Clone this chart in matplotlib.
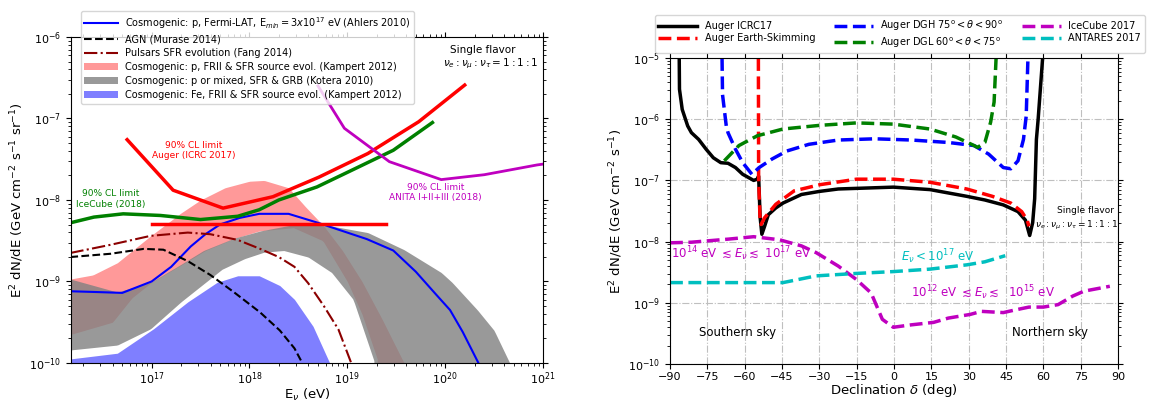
import numpy as np
import matplotlib
matplotlib.use('Agg')
from matplotlib import pyplot as plt
from matplotlib.lines import Line2D
from matplotlib.patches import Patch
from matplotlib.ticker import NullFormatter

# * Left panel: values read as log10(E/eV), log10(E^2 dN/dE)
ahlers_logE = [16.17, 16.45, 16.70, 17.00, 17.20, 17.40, 17.55, 17.70, 17.90, 18.10,
               18.40, 18.70, 19.00, 19.20, 19.47, 19.70, 19.90, 20.05, 20.18, 20.34]
ahlers_logF = [-9.12, -9.13, -9.14, -9.00, -8.82, -8.57, -8.42, -8.30, -8.22, -8.17,
               -8.17, -8.28, -8.40, -8.48, -8.62, -8.88, -9.15, -9.35, -9.62, -10.0]

agn_logE = [16.17, 16.58, 16.92, 17.12, 17.37, 17.60, 17.84, 18.11, 18.31, 18.46, 18.54]
agn_logF = [-8.70, -8.66, -8.60, -8.61, -8.75, -8.92, -9.13, -9.38, -9.60, -9.82, -10.0]

pulsar_logE = [16.17, 16.58, 16.99, 17.37, 17.60, 17.88, 18.11, 18.30, 18.46, 18.60,
               18.76, 18.91, 19.04]
pulsar_logF = [-8.65, -8.55, -8.44, -8.40, -8.42, -8.49, -8.60, -8.70, -8.82, -9.02,
               -9.30, -9.59, -10.0]

auger_logE = [16.75, 17.22, 17.73, 18.24, 18.71, 19.21, 19.73, 20.20]
auger_logF = [-7.26, -7.88, -8.10, -7.96, -7.72, -7.43, -7.04, -6.59]

auger_int_logE = [17.0, 19.4]
auger_int_logF = [-8.30, -8.30]

icecube_logE = [16.17, 16.41, 16.71, 17.09, 17.50, 17.88, 18.10, 18.30, 18.69, 19.02,
                19.47, 19.87]
icecube_logF = [-8.28, -8.21, -8.17, -8.19, -8.24, -8.20, -8.12, -8.00, -7.84, -7.65,
                -7.39, -7.05]

anita_logE = [18.70, 18.97, 19.43, 19.96, 20.40, 20.94, 21.0]
anita_logF = [-6.60, -7.12, -7.53, -7.75, -7.69, -7.57, -7.56]

kampert_p_up_logE = [16.17, 16.40, 16.65, 16.99, 17.30, 17.50, 17.75, 18.00, 18.15, 18.40,
                     18.57, 18.76, 18.95, 19.15, 19.35, 19.58]
kampert_p_up_logF = [-8.97, -8.92, -8.77, -8.44, -8.16, -8.00, -7.85, -7.77, -7.76, -7.85,
                     -8.08, -8.32, -8.62, -9.00, -9.45, -10.0]
kampert_p_lo_logE = [16.17, 16.60, 16.80, 17.00, 17.30, 17.55, 17.85, 18.10, 18.45, 18.75,
                     19.00, 19.15, 19.32]
kampert_p_lo_logF = [-9.65, -9.50, -9.20, -9.01, -8.80, -8.62, -8.47, -8.38, -8.34, -8.50,
                     -9.00, -9.40, -10.0]

kotera_up_logE = [16.17, 16.65, 16.99, 17.30, 17.53, 17.84, 18.11, 18.46, 18.84, 19.21,
                  19.58, 19.96, 20.07, 20.33, 20.50, 20.66]
kotera_up_logF = [-8.97, -9.13, -9.01, -8.79, -8.62, -8.47, -8.38, -8.30, -8.32, -8.40,
                  -8.61, -8.89, -9.01, -9.35, -9.60, -10.0]
kotera_lo_logE = [16.17, 16.65, 16.99, 17.30, 17.72, 17.95, 18.15, 18.35, 18.60, 18.84,
                  19.06, 19.28]
kotera_lo_logF = [-9.84, -9.78, -9.58, -9.25, -8.85, -8.72, -8.64, -8.62, -8.70, -8.89,
                  -9.22, -10.0]

kampert_fe_logE = [16.17, 16.65, 17.02, 17.37, 17.67, 17.88, 18.10, 18.31, 18.46, 18.65, 18.82]
kampert_fe_logF = [-9.95, -9.88, -9.58, -9.25, -9.01, -8.93, -8.93, -9.05, -9.22, -9.55, -10.0]

e_ticks = [1e17, 1e18, 1e19, 1e20, 1e21]
flux_ticks_left = [1e-10, 1e-9, 1e-8, 1e-7, 1e-6]

# * Right panel: declination (deg), log10(E^2 dN/dE)
icrc17_dec = [-86.3, -86.2, -85.1, -82.9, -81.4, -78.5, -75.5, -72.6, -69.6, -66.7, -63.7,
              -60.8, -56.4, -55.0, -54.4, -53.8, -53.1, -52.0, -50.5, -47.5, -44.6, -37.2,
              -30.0, -22.4, -0.3, 14.4, 29.2, 36.5, 43.9, 49.8, 52.8, 54.5, 55.7, 56.5,
              57.2, 57.9, 59.7]
icrc17_logF = [-5.0, -5.51, -5.84, -6.11, -6.22, -6.33, -6.49, -6.63, -6.71, -6.72, -6.79,
               -6.90, -7.00, -6.98, -6.93, -7.60, -7.88, -7.75, -7.56, -7.45, -7.37, -7.23,
               -7.18, -7.14, -7.11, -7.15, -7.26, -7.32, -7.40, -7.51, -7.65, -7.90, -7.69,
               -7.30, -6.33, -6.00, -5.0]

es_dec = [-54.5, -54.4, -53.8, -53.4, -52.0, -47.5, -40.1, -29.8, -15.1, -0.3, 14.4,
          29.2, 39.5, 46.9, 51.3, 53.5, 54.2]
es_logF = [-5.0, -7.0, -7.65, -7.72, -7.61, -7.39, -7.17, -7.07, -6.98, -6.98, -7.03,
           -7.14, -7.26, -7.37, -7.51, -7.65, -7.75]

dgh_dec = [-69.1, -68.9, -67.4, -66.7, -63.7, -60.8, -57.1, -54.2, -49.0, -43.1, -34.2,
           -22.4, -7.7, 7.0, 21.8, 32.1, 38.0, 43.9, 46.9, 49.8, 52.0, 53.1, 53.8]
dgh_logF = [-5.0, -5.6, -6.11, -6.22, -6.49, -6.71, -6.90, -6.79, -6.65, -6.52, -6.41,
            -6.34, -6.32, -6.34, -6.38, -6.43, -6.57, -6.79, -6.81, -6.68, -6.33, -5.95, -5.0]

dgl_dec = [-68.2, -62.3, -54.9, -44.6, -29.8, -15.1, -0.3, 14.4, 24.8, 30.6, 33.6, 36.5,
           38.8, 40.2, 41.0]
dgl_logF = [-6.68, -6.43, -6.27, -6.16, -6.10, -6.06, -6.08, -6.16, -6.29, -6.40, -6.46,
            -6.38, -6.05, -5.72, -5.0]

ic17_dec = [-90, -81.4, -66.7, -56.4, -46.0, -37.2, -31.3, -22.4, -15.1, -9.2, -7.0, -4.7,
            -0.3, 7.0, 15.9, 21.8, 30.6, 35.1, 43.9, 48.3, 54.2, 60.0, 65.9, 71.8, 76.3, 86.7]
ic17_logF = [-8.02, -8.01, -7.96, -7.92, -7.97, -8.07, -8.18, -8.40, -8.62, -8.84, -9.05,
             -9.27, -9.40, -9.36, -9.32, -9.25, -9.19, -9.14, -9.16, -9.12, -9.07, -9.07,
             -9.03, -8.89, -8.81, -8.73]

antares_dec = [-90, -44.6, -31.3, -15.1, -0.3, 14.4, 29.2, 36.5, 44.7]
antares_logF = [-8.67, -8.67, -8.56, -8.52, -8.49, -8.45, -8.38, -8.33, -8.23]

dec_ticks = list(range(-90, 91, 15))
flux_ticks_right = [1e-10, 1e-9, 1e-8, 1e-7, 1e-6, 1e-5]


def p10(a):
    return 10 ** np.asarray(a)


fig = plt.figure(figsize=(11.58, 4.01), dpi=100)

# * Left panel
ax1 = fig.add_axes([0.0613, 0.0948, 0.4076, 0.813])

# bands: put both edges of each band on one grid so fill_between can use them
grid = np.linspace(16.17, 19.58, 200)
pu = np.interp(grid, kampert_p_up_logE, kampert_p_up_logF)
pl = np.interp(grid, kampert_p_lo_logE, kampert_p_lo_logF, right=-11)
ax1.fill_between(p10(grid), p10(pl), p10(pu), color='red', alpha=0.4, lw=0)

gridk = np.linspace(16.17, 20.66, 250)
ku = np.interp(gridk, kotera_up_logE, kotera_up_logF)
kl = np.interp(gridk, kotera_lo_logE, kotera_lo_logF, right=-11)
ax1.fill_between(p10(gridk), p10(kl), p10(ku), color='0.5', alpha=0.8, lw=0)

ax1.fill_between(p10(kampert_fe_logE), 1e-11, p10(kampert_fe_logF), color='blue',
                 alpha=0.5, lw=0)

ax1.plot(p10(ahlers_logE), p10(ahlers_logF), color='blue', lw=1.5)
ax1.plot(p10(agn_logE), p10(agn_logF), color='k', ls='--', lw=1.5)
ax1.plot(p10(pulsar_logE), p10(pulsar_logF), color='darkred', ls='-.', lw=1.5)
ax1.plot(p10(auger_logE), p10(auger_logF), color='red', lw=2.5)
ax1.plot(p10(auger_int_logE), p10(auger_int_logF), color='red', lw=2.5)
ax1.plot(p10(icecube_logE), p10(icecube_logF), color='green', lw=2.5)
ax1.plot(p10(anita_logE), p10(anita_logF), color='m', lw=2)

ax1.set_xscale('log')
ax1.set_yscale('log')
ax1.set_xticks(e_ticks)
ax1.set_yticks(flux_ticks_left)
ax1.set_xlim(1.5e16, 1e21)
ax1.set_ylim(1e-10, 1e-6)
ax1.xaxis.set_minor_formatter(NullFormatter())
ax1.yaxis.set_minor_formatter(NullFormatter())
ax1.tick_params(which='both', top=True, right=True, labelsize=8)
ax1.tick_params(axis='x', which='major', pad=2)
ax1.set_xlabel(r'E$_\nu$ (eV)', fontsize=9.5, labelpad=0)
ax1.set_ylabel(r'E$^2$ dN/dE (GeV cm$^{-2}$ s$^{-1}$ sr$^{-1}$)', fontsize=9.5, labelpad=2)

ax1.text(10 ** 17.43, 10 ** -7.39, '90% CL limit\nAuger (ICRC 2017)', color='red',
         fontsize=6.5, ha='center', va='center')
ax1.text(10 ** 16.58, 10 ** -7.99, '90% CL limit\nIceCube (2018)', color='green',
         fontsize=6.5, ha='center', va='center')
ax1.text(10 ** 19.90, 10 ** -7.91, '90% CL limit\nANITA I+II+III (2018)', color='m',
         fontsize=6.5, ha='center', va='center')
ax1.text(10 ** 20.38, 10 ** -6.155, 'Single flavor', fontsize=7.5, ha='center', va='center')
ax1.text(10 ** 20.47, 10 ** -6.335, r'$\nu_e:\nu_\mu:\nu_\tau = 1:1:1$', fontsize=7.5,
         ha='center', va='center')

handles1 = [
    Line2D([], [], color='blue', lw=1.5),
    Line2D([], [], color='k', ls='--', lw=1.5),
    Line2D([], [], color='darkred', ls='-.', lw=1.5),
    Patch(color='red', alpha=0.4, lw=0),
    Patch(color='0.5', alpha=0.8, lw=0),
    Patch(color='blue', alpha=0.5, lw=0),
]
labels1 = [
    r'Cosmogenic: p, Fermi-LAT, E$_{min}=3x10^{17}$ eV (Ahlers 2010)',
    'AGN (Murase 2014)',
    'Pulsars SFR evolution (Fang 2014)',
    'Cosmogenic: p, FRII & SFR source evol. (Kampert 2012)',
    'Cosmogenic: p or mixed, SFR & GRB (Kotera 2010)',
    'Cosmogenic: Fe, FRII & SFR source evol. (Kampert 2012)',
]
leg1 = ax1.legend(handles1, labels1, loc='upper left', bbox_to_anchor=(0.01, 1.095),
                  fontsize=7, labelspacing=0.4, handlelength=3.4, borderpad=0.4)
leg1.set_zorder(10)

# * Right panel
ax2 = fig.add_axes([0.5786, 0.0923, 0.3869, 0.763])
ax2.plot(icrc17_dec, p10(icrc17_logF), color='k', lw=2.5, label='Auger ICRC17')
ax2.plot(es_dec, p10(es_logF), color='red', ls='--', lw=2.5, label='Auger Earth-Skimming')
ax2.plot(dgh_dec, p10(dgh_logF), color='blue', ls='--', lw=2.5,
         label=r'Auger DGH 75$^{\rm o} < \theta < 90^{\rm o}$')
ax2.plot(dgl_dec, p10(dgl_logF), color='green', ls='--', lw=2.5,
         label=r'Auger DGL 60$^{\rm o} < \theta < 75^{\rm o}$')
ax2.plot(ic17_dec, p10(ic17_logF), color='m', ls='--', lw=2.5, label='IceCube 2017')
ax2.plot(antares_dec, p10(antares_logF), color='c', ls='--', lw=2.5, label='ANTARES 2017')

ax2.set_yscale('log')
ax2.set_xticks(dec_ticks)
ax2.set_yticks(flux_ticks_right)
ax2.set_xlim(-90, 90)
ax2.set_ylim(1e-10, 1e-5)
ax2.yaxis.set_minor_formatter(NullFormatter())
ax2.grid(True, which='major', ls='-.', color='0.75', lw=0.8)
ax2.tick_params(which='both', top=True, right=True, labelsize=8)
ax2.tick_params(axis='x', which='major', pad=2)
ax2.set_xlabel(r'Declination $\delta$ (deg)', fontsize=9.5, labelpad=0)
ax2.set_ylabel(r'E$^2$ dN/dE (GeV cm$^{-2}$ s$^{-1}$)', fontsize=9.5, labelpad=2)

ax2.text(76.8, 10 ** -7.485, 'Single flavor', fontsize=6.5, ha='center', va='center')
ax2.text(73.4, 10 ** -7.74, r'$\nu_e:\nu_\mu:\nu_\tau = 1:1:1$', fontsize=6.5,
         ha='center', va='center')
ax2.text(-89.6, 10 ** -8.20, r'10$^{14}$ eV $\lesssim E_\nu \lesssim$ 10$^{17}$ eV',
         color='m', fontsize=8.5, ha='left', va='center')
ax2.text(17.5, 10 ** -8.24, r'$E_\nu < 10^{17}$ eV', color='c', fontsize=8.5,
         ha='center', va='center')
ax2.text(35.8, 10 ** -8.835, r'10$^{12}$ eV $\lesssim E_\nu \lesssim$  10$^{15}$ eV',
         color='m', fontsize=8.5, ha='center', va='center')
ax2.text(-63.0, 10 ** -9.49, 'Southern sky', fontsize=8.5, ha='center', va='center')
ax2.text(62.5, 10 ** -9.49, 'Northern sky', fontsize=8.5, ha='center', va='center')

ax2.legend(loc='upper left', bbox_to_anchor=(-0.045, 1.155), ncol=3, fontsize=7,
           handlelength=4.0, labelspacing=0.2, columnspacing=1.9, borderpad=0.35)

fig.savefig('out.png', dpi=100)
